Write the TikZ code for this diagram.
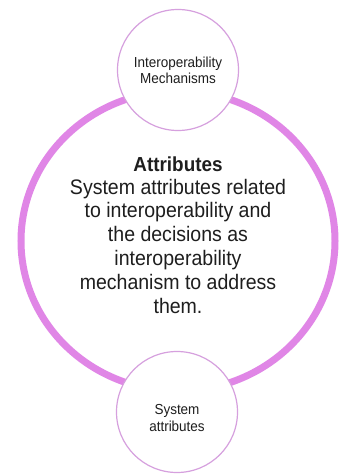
\documentclass[tikz,border=0pt]{standalone}
\usepackage{fontspec}
\setmainfont{Liberation Sans}
\newfontfamily\narrowfont[FakeStretch=0.93]{Liberation Sans}
\definecolor{ringc}{RGB}{224,134,230}
\definecolor{thinc}{RGB}{214,160,222}
\definecolor{txt}{RGB}{30,30,30}
\begin{document}
\begin{tikzpicture}[x=1pt,y=-1pt,
  smallcirc/.style={circle,draw=thinc,line width=1.2pt,fill=white,minimum size=121pt,inner sep=0pt},
  smalltxt/.style={align=center,text=txt,inner sep=0pt,anchor=north,font=\narrowfont\fontsize{14.5}{16.3}\selectfont},
  bigtxt/.style={align=center,text=txt,inner sep=0pt,font=\narrowfont\fontsize{21}{23.8}\selectfont}]
\useasboundingbox (0,0) rectangle (340,474);
\fill[white] (0,0) rectangle (340,474);
\draw[ringc,line width=7pt] (178,241) ellipse [x radius=157, y radius=150];
\node[smallcirc] (top) at (178,70) {};
\node[smallcirc] (bot) at (177,412) {};
\node[smalltxt] (toptxt) at (178,56.5) {Interoperability\\Mechanisms};
\node[smalltxt] (bottxt) at (177,404.5) {System\\attributes};
\node[bigtxt,font=\narrowfont\bfseries\fontsize{20.3}{23}\selectfont,anchor=base] (title) at (178,171.5) {Attributes};
\node[bigtxt,anchor=north] (body) at (178,178.7) {System attributes related\\to interoperability and\\the decisions as\\interoperability\\mechanism to address\\them.};
\end{tikzpicture}
\end{document}
